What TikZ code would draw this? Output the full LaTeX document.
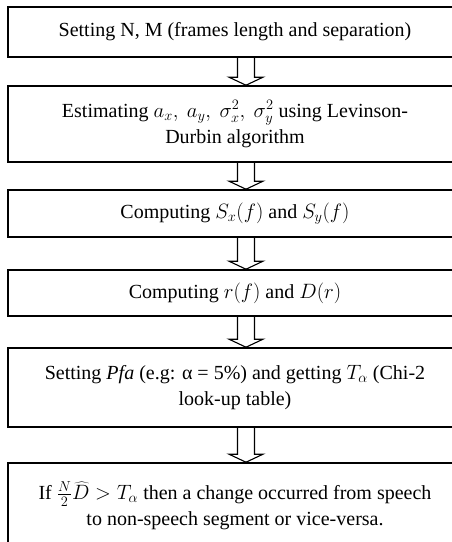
\documentclass[tikz,border=0pt]{standalone}
\usepackage{fontspec}
\setmainfont{Liberation Serif}
\usetikzlibrary{calc}
\begin{document}
\begin{tikzpicture}[x=1pt,y=-1pt,
  stepbox/.style={draw=black, line width=1.6pt, rectangle, inner sep=0pt,
    minimum width=454pt, align=center,
    font=\fontsize{20}{25.5}\selectfont},
  flowarrow/.style={draw=black, line width=1.1pt, line join=miter}]
% page
\fill[white] (0,0) rectangle (451,542);
\useasboundingbox (0,0) rectangle (451,542);

% process steps
\node[stepbox, minimum height=50pt] (b1) at (235,32)
  {Setting N, M (frames length and separation)};
\node[stepbox, minimum height=76pt] (b2) at (235,124)
  {Estimating $a_x,\ a_y,\ \sigma_x^2,\ \sigma_y^2$ using Levinson-\\Durbin algorithm};
\node[stepbox, minimum height=47pt] (b3) at (235,213.5)
  {Computing $S_x(f)$ and $S_y(f)$};
\node[stepbox, minimum height=46pt] (b4) at (235,293)
  {Computing $r(f)$ and $D(r)$};
\node[stepbox, minimum height=79pt] (b5) at (235,387.5)
  {Setting \textit{Pfa} (e.g: α = 5\%) and getting $T_\alpha$ (Chi-2\\look-up table)};
\node[stepbox, minimum height=85pt] (b6) at (235,505.5)
  {If $\frac{N}{2}\widehat{D} > T_\alpha$ then a change occurred from speech\\to non-speech segment or vice-versa.};

% hollow block arrows between consecutive steps
\foreach \a/\b in {b1/b2,b2/b3,b3/b4,b4/b5,b5/b6}{
  \draw[flowarrow] let \p1=($(\a.south)+(11,0)$), \p2=($(\b.north)+(11,0)$) in
    (\x1-8.5pt,\y1) -- (\x1-8.5pt,\y2+8pt) -- (\x1-17pt,\y2+8pt)
    -- (\x1,\y2) -- (\x1+17pt,\y2+8pt) -- (\x1+8.5pt,\y2+8pt) -- (\x1+8.5pt,\y1);
}
\end{tikzpicture}
\end{document}
